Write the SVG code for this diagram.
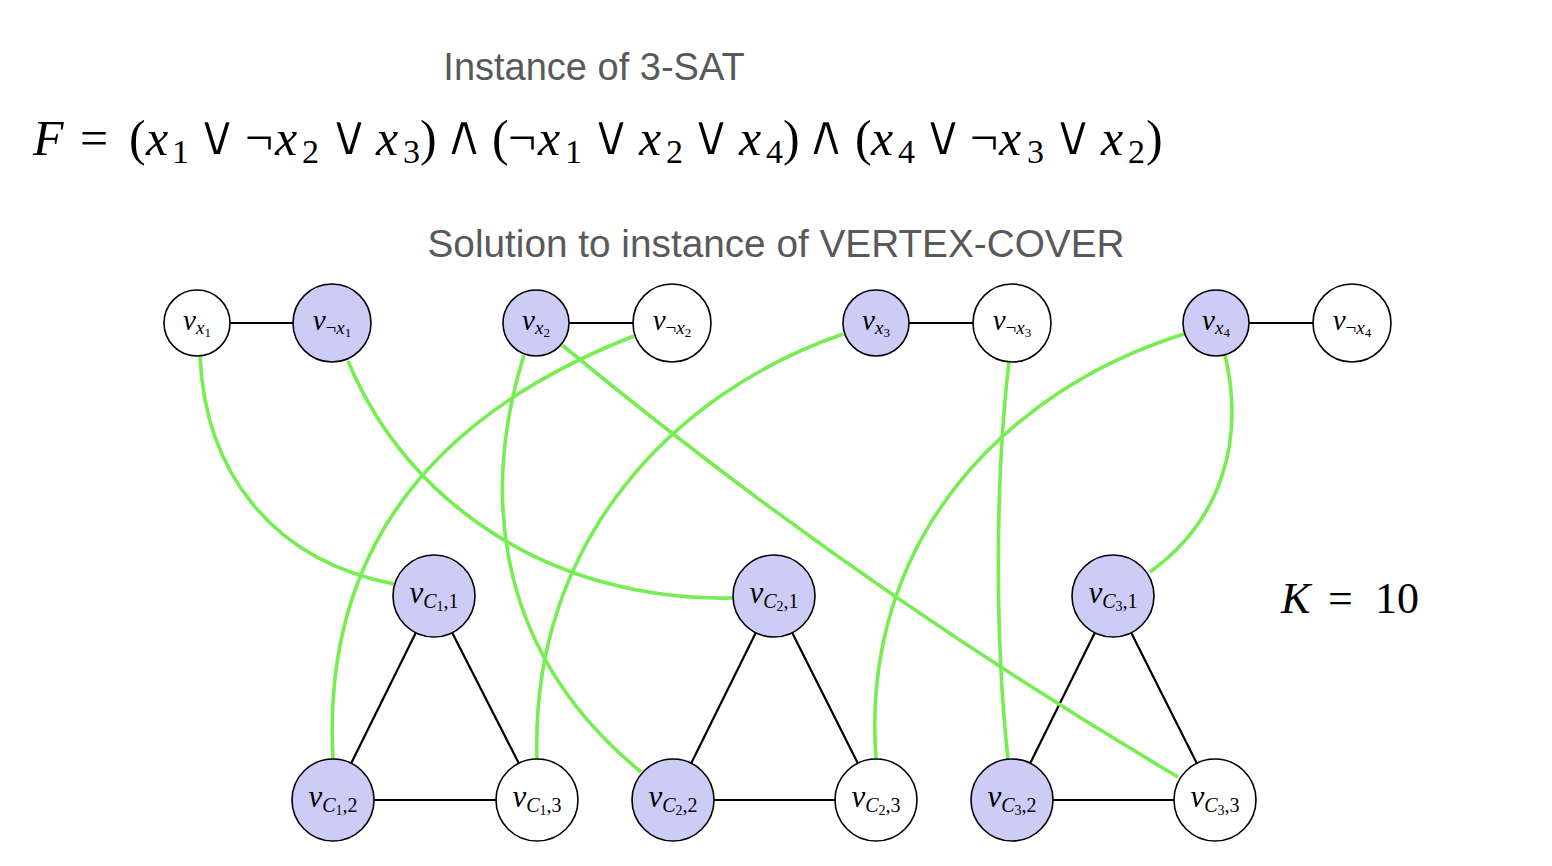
<svg xmlns="http://www.w3.org/2000/svg" width="1552" height="866" viewBox="0 0 1552 866">
<style>
.title{font-family:"Liberation Sans",Arial,sans-serif;font-size:38px;fill:#595959}
.math{font-family:"Liberation Serif","DejaVu Serif",serif;fill:#000}
.it{font-style:italic}
.op{font-family:"DejaVu Sans","DejaVu Serif",sans-serif;font-size:58px;fill:#000;stroke:#fff;stroke-width:1.8}
.n{stroke:#000;stroke-width:1.6}
.sel{fill:#ccccf7}
.uns{fill:#fff}
.lbl{font-family:"Liberation Serif","DejaVu Serif",serif;font-style:italic;fill:#000}
.blk{stroke:#000;stroke-width:2.2;fill:none}
.grn{stroke:#76ee52;stroke-width:3.6;fill:none}
</style>
<rect width="1552" height="866" fill="#fff"/>
<text class="title" x="594" y="80" text-anchor="middle">Instance of 3-SAT</text>
<text class="title" x="776" y="257" text-anchor="middle" textLength="697" lengthAdjust="spacingAndGlyphs">Solution to instance of VERTEX-COVER</text>

<g id="formula" class="math" font-size="50">
<text y="155">
<tspan class="it" x="33">F</tspan>
<tspan x="80" font-size="50">=</tspan>
<tspan x="129">(</tspan>
<tspan class="it" x="146">x</tspan><tspan x="172" y="163" font-size="34">1</tspan>
<tspan x="245" y="155">¬</tspan>
<tspan class="it" x="275">x</tspan><tspan x="302" y="163" font-size="34">2</tspan>
<tspan class="it" x="376" y="155">x</tspan><tspan x="403" y="163" font-size="34">3</tspan>
<tspan x="420" y="155">)</tspan>
<tspan x="492" y="155">(</tspan>
<tspan x="508">¬</tspan>
<tspan class="it" x="538">x</tspan><tspan x="565" y="163" font-size="34">1</tspan>
<tspan class="it" x="639" y="155">x</tspan><tspan x="666" y="163" font-size="34">2</tspan>
<tspan class="it" x="739" y="155">x</tspan><tspan x="766" y="163" font-size="34">4</tspan>
<tspan x="783" y="155">)</tspan>
<tspan x="855" y="155">(</tspan>
<tspan class="it" x="871">x</tspan><tspan x="898" y="163" font-size="34">4</tspan>
<tspan x="970" y="155">¬</tspan>
<tspan class="it" x="999">x</tspan><tspan x="1027" y="163" font-size="34">3</tspan>
<tspan class="it" x="1101" y="155">x</tspan><tspan x="1128" y="163" font-size="34">2</tspan>
<tspan x="1146" y="155">)</tspan>
</text>
<text class="op" x="217" y="155" text-anchor="middle">∨</text>
<text class="op" x="349" y="155" text-anchor="middle">∨</text>
<text class="op" x="464" y="155" text-anchor="middle">∧</text>
<text class="op" x="611" y="155" text-anchor="middle">∨</text>
<text class="op" x="711" y="155" text-anchor="middle">∨</text>
<text class="op" x="826" y="155" text-anchor="middle">∧</text>
<text class="op" x="943" y="155" text-anchor="middle">∨</text>
<text class="op" x="1073" y="155" text-anchor="middle">∨</text>
</g>

<g id="k-label" class="math" font-size="44">
<text y="613"><tspan class="it" x="1281">K</tspan><tspan x="1328">=</tspan><tspan x="1375">10</tspan></text>
</g>

<g id="connectors">
<line class="blk" x1="230" y1="323" x2="293" y2="323"/>
<line class="blk" x1="569" y1="323" x2="633" y2="323"/>
<line class="blk" x1="909" y1="323" x2="973" y2="323"/>
<line class="blk" x1="1249" y1="323" x2="1313" y2="323"/>
<line class="blk" x1="415.8" y1="632.7" x2="351.2" y2="763.3"/>
<line class="blk" x1="452.2" y1="632.7" x2="518.8" y2="763.3"/>
<line class="blk" x1="374" y1="800" x2="496" y2="800"/>
<line class="blk" x1="755.8" y1="632.7" x2="691.2" y2="763.3"/>
<line class="blk" x1="792.2" y1="632.7" x2="857.8" y2="763.3"/>
<line class="blk" x1="714" y1="800" x2="835" y2="800"/>
<line class="blk" x1="1094.8" y1="632.7" x2="1030.2" y2="763.3"/>
<line class="blk" x1="1131.2" y1="632.7" x2="1196.8" y2="763.3"/>
<line class="blk" x1="1053" y1="800" x2="1174" y2="800"/>
<path class="grn" d="M200 356 C205 470 270 560 394 584"/>
<path class="grn" d="M348 361 C410 510 560 602 733 598"/>
<path class="grn" d="M524 355 C488 470 480 640 641 772"/>
<path class="grn" d="M634 336 C470 400 320 520 333 759"/>
<path class="grn" d="M843 334 C675 392 530 540 537 759"/>
<path class="grn" d="M1009 362 C995 480 995 640 1008 759"/>
<path class="grn" d="M1184 334 C1005 390 860 540 876 759"/>
<path class="grn" d="M1225 355 C1245 440 1222 520 1150 572"/>
<path class="grn" d="M562 345 Q850 583 1178 777"/>
</g>

<g id="v_x1"><circle class="n uns" cx="197" cy="323" r="33"/><text class="lbl" x="197" y="330" text-anchor="middle" font-size="29">v<tspan font-size="19" dy="4">x</tspan><tspan font-size="13" font-style="normal" dy="3">1</tspan></text></g>
<g id="v_nx1"><circle class="n sel" cx="332" cy="323" r="39"/><text class="lbl" x="332" y="330" text-anchor="middle" font-size="29">v<tspan font-size="19" dy="4" font-style="normal">¬</tspan><tspan font-size="19">x</tspan><tspan font-size="13" font-style="normal" dy="3">1</tspan></text></g>
<g id="v_x2"><circle class="n sel" cx="536" cy="323" r="33"/><text class="lbl" x="536" y="330" text-anchor="middle" font-size="29">v<tspan font-size="19" dy="4">x</tspan><tspan font-size="13" font-style="normal" dy="3">2</tspan></text></g>
<g id="v_nx2"><circle class="n uns" cx="672" cy="323" r="39"/><text class="lbl" x="672" y="330" text-anchor="middle" font-size="29">v<tspan font-size="19" dy="4" font-style="normal">¬</tspan><tspan font-size="19">x</tspan><tspan font-size="13" font-style="normal" dy="3">2</tspan></text></g>
<g id="v_x3"><circle class="n sel" cx="876" cy="323" r="33"/><text class="lbl" x="876" y="330" text-anchor="middle" font-size="29">v<tspan font-size="19" dy="4">x</tspan><tspan font-size="13" font-style="normal" dy="3">3</tspan></text></g>
<g id="v_nx3"><circle class="n uns" cx="1012" cy="323" r="39"/><text class="lbl" x="1012" y="330" text-anchor="middle" font-size="29">v<tspan font-size="19" dy="4" font-style="normal">¬</tspan><tspan font-size="19">x</tspan><tspan font-size="13" font-style="normal" dy="3">3</tspan></text></g>
<g id="v_x4"><circle class="n sel" cx="1216" cy="323" r="33"/><text class="lbl" x="1216" y="330" text-anchor="middle" font-size="29">v<tspan font-size="19" dy="4">x</tspan><tspan font-size="13" font-style="normal" dy="3">4</tspan></text></g>
<g id="v_nx4"><circle class="n uns" cx="1352" cy="323" r="39"/><text class="lbl" x="1352" y="330" text-anchor="middle" font-size="29">v<tspan font-size="19" dy="4" font-style="normal">¬</tspan><tspan font-size="19">x</tspan><tspan font-size="13" font-style="normal" dy="3">4</tspan></text></g>

<g id="v_C1_1"><circle class="n sel" cx="434" cy="596" r="41"/><text class="lbl" x="434" y="603" text-anchor="middle" font-size="31">v<tspan font-size="20" dy="5">C</tspan><tspan font-size="14" font-style="normal" dy="3">1</tspan><tspan font-size="20" font-style="normal" dy="-3">,1</tspan></text></g>
<g id="v_C1_2"><circle class="n sel" cx="333" cy="800" r="41"/><text class="lbl" x="333" y="807" text-anchor="middle" font-size="31">v<tspan font-size="20" dy="5">C</tspan><tspan font-size="14" font-style="normal" dy="3">1</tspan><tspan font-size="20" font-style="normal" dy="-3">,2</tspan></text></g>
<g id="v_C1_3"><circle class="n uns" cx="537" cy="800" r="41"/><text class="lbl" x="537" y="807" text-anchor="middle" font-size="31">v<tspan font-size="20" dy="5">C</tspan><tspan font-size="14" font-style="normal" dy="3">1</tspan><tspan font-size="20" font-style="normal" dy="-3">,3</tspan></text></g>
<g id="v_C2_1"><circle class="n sel" cx="774" cy="596" r="41"/><text class="lbl" x="774" y="603" text-anchor="middle" font-size="31">v<tspan font-size="20" dy="5">C</tspan><tspan font-size="14" font-style="normal" dy="3">2</tspan><tspan font-size="20" font-style="normal" dy="-3">,1</tspan></text></g>
<g id="v_C2_2"><circle class="n sel" cx="673" cy="800" r="41"/><text class="lbl" x="673" y="807" text-anchor="middle" font-size="31">v<tspan font-size="20" dy="5">C</tspan><tspan font-size="14" font-style="normal" dy="3">2</tspan><tspan font-size="20" font-style="normal" dy="-3">,2</tspan></text></g>
<g id="v_C2_3"><circle class="n uns" cx="876" cy="800" r="41"/><text class="lbl" x="876" y="807" text-anchor="middle" font-size="31">v<tspan font-size="20" dy="5">C</tspan><tspan font-size="14" font-style="normal" dy="3">2</tspan><tspan font-size="20" font-style="normal" dy="-3">,3</tspan></text></g>
<g id="v_C3_1"><circle class="n sel" cx="1113" cy="596" r="41"/><text class="lbl" x="1113" y="603" text-anchor="middle" font-size="31">v<tspan font-size="20" dy="5">C</tspan><tspan font-size="14" font-style="normal" dy="3">3</tspan><tspan font-size="20" font-style="normal" dy="-3">,1</tspan></text></g>
<g id="v_C3_2"><circle class="n sel" cx="1012" cy="800" r="41"/><text class="lbl" x="1012" y="807" text-anchor="middle" font-size="31">v<tspan font-size="20" dy="5">C</tspan><tspan font-size="14" font-style="normal" dy="3">3</tspan><tspan font-size="20" font-style="normal" dy="-3">,2</tspan></text></g>
<g id="v_C3_3"><circle class="n uns" cx="1215" cy="800" r="41"/><text class="lbl" x="1215" y="807" text-anchor="middle" font-size="31">v<tspan font-size="20" dy="5">C</tspan><tspan font-size="14" font-style="normal" dy="3">3</tspan><tspan font-size="20" font-style="normal" dy="-3">,3</tspan></text></g>
</svg>
